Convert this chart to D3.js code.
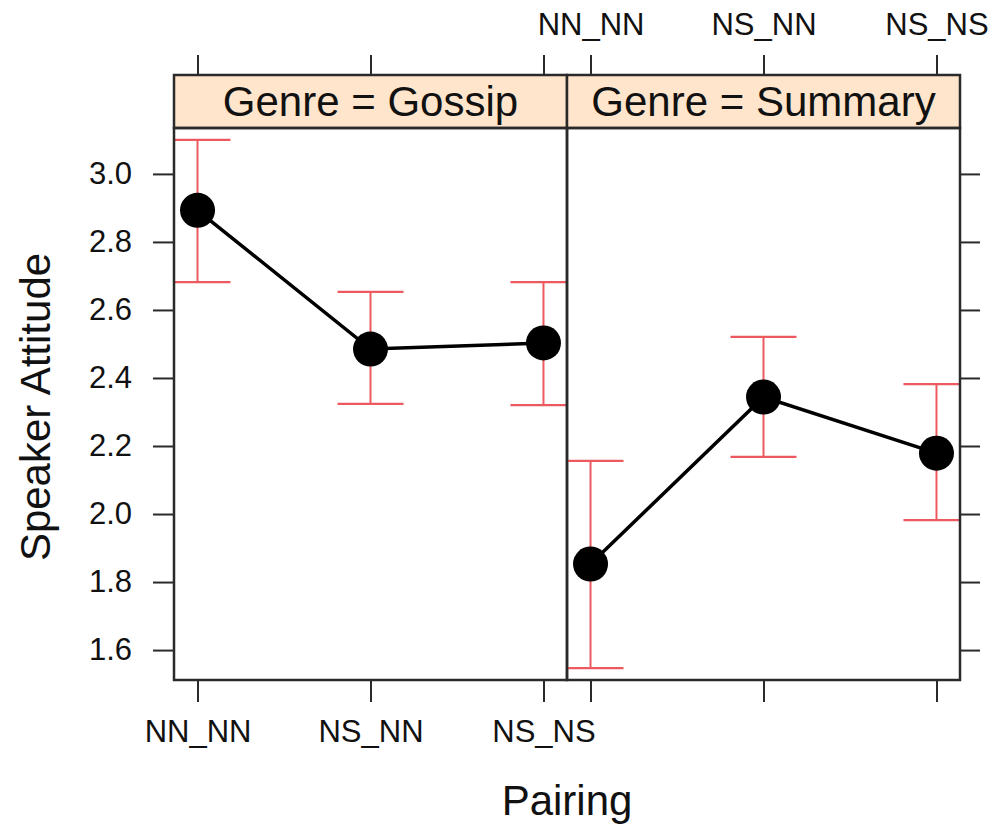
<!DOCTYPE html>
<html>
<head>
<meta charset="utf-8">
<script src="https://cdn.jsdelivr.net/npm/d3@7"></script>
<style>
  body { margin: 0; background: #fff; }
  text { font-family: "Liberation Sans", Arial, Helvetica, sans-serif; fill: #111; }
</style>
</head>
<body>
<div id="chart"></div>
<script>
// datos
const pairings = ["NN_NN", "NS_NN", "NS_NS"];
const genres = ["Gossip", "Summary"];
const meanGossip  = [2.893, 2.485, 2.503];
const upperGossip = [3.100, 2.653, 2.682];
const lowerGossip = [2.682, 2.324, 2.320];
const meanSummary  = [1.853, 2.344, 2.179];
const upperSummary = [2.156, 2.521, 2.382];
const lowerSummary = [1.547, 2.168, 1.982];
const yTicks = [1.6, 1.8, 2.0, 2.2, 2.4, 2.6, 2.8, 3.0];

const panels = [
  { genre: genres[0], mean: meanGossip, upper: upperGossip, lower: lowerGossip },
  { genre: genres[1], mean: meanSummary, upper: upperSummary, lower: lowerSummary }
];

const W = 993, H = 827;
const panelLeft = 174, panelW = 393;
const stripTop = 75, panelTop = 128, panelBottom = 680;
const red = "#ec5a60";
const ink = "#2a2a2a";

const svg = d3.select("#chart").append("svg")
  .attr("width", W).attr("height", H);

const y = d3.scaleLinear().domain([1.512, 3.135]).range([panelBottom, panelTop]);

panels.forEach((p, i) => {
  const x0 = panelLeft + i * panelW, x1 = x0 + panelW;
  const x = d3.scalePoint().domain(pairings).range([x0, x1]).padding(0.136);
  const g = svg.append("g");

  // strip
  g.append("rect")
    .attr("x", x0).attr("y", stripTop)
    .attr("width", panelW).attr("height", panelTop - stripTop)
    .attr("fill", "#ffe5cc").attr("stroke", ink).attr("stroke-width", 2.5);
  g.append("text")
    .attr("x", (x0 + x1) / 2).attr("y", panelTop - 12)
    .attr("text-anchor", "middle")
    .style("font-size", "42px")
    .text("Genre = " + p.genre);

  // ejes x: abajo y arriba
  const xb = g.append("g").attr("transform", `translate(0,${panelBottom})`)
    .call(d3.axisBottom(x).tickSize(22).tickPadding(18)
      .tickFormat(i === 0 ? d => d : () => ""));
  const xt = g.append("g").attr("transform", `translate(0,${stripTop})`)
    .call(d3.axisTop(x).tickSize(20).tickPadding(20)
      .tickFormat(i === 1 ? d => d : () => ""));
  [xb, xt].forEach(a => {
    a.select(".domain").remove();
    a.selectAll("line").attr("stroke", ink).attr("stroke-width", 2);
    a.selectAll("text").style("font-size", "31px").attr("fill", "#111");
  });

  // eje y
  if (i === 0) {
    const ya = g.append("g").attr("transform", `translate(${x0},0)`)
      .call(d3.axisLeft(y).tickValues(yTicks).tickSize(21).tickPadding(21)
        .tickFormat(d3.format(".1f")));
    ya.select(".domain").remove();
    ya.selectAll("line").attr("stroke", ink).attr("stroke-width", 2);
    ya.selectAll("text").style("font-size", "31px").attr("fill", "#111");
  } else {
    const ya = g.append("g").attr("transform", `translate(${x1},0)`)
      .call(d3.axisRight(y).tickValues(yTicks).tickSize(20).tickFormat(() => ""));
    ya.select(".domain").remove();
    ya.selectAll("line").attr("stroke", ink).attr("stroke-width", 2);
  }

  // barras de error
  const cap = 33;
  pairings.forEach((c, j) => {
    const cx = x(c);
    g.append("line")
      .attr("x1", cx).attr("x2", cx)
      .attr("y1", y(p.lower[j])).attr("y2", y(p.upper[j]))
      .attr("stroke", red).attr("stroke-width", 2);
    [p.lower[j], p.upper[j]].forEach(v => {
      g.append("line")
        .attr("x1", Math.max(cx - cap, x0)).attr("x2", Math.min(cx + cap, x1))
        .attr("y1", y(v)).attr("y2", y(v))
        .attr("stroke", red).attr("stroke-width", 2.2);
    });
  });

  // linea y puntos
  const line = d3.line().x((d, j) => x(pairings[j])).y(d => y(d));
  g.append("path")
    .datum(p.mean)
    .attr("d", line)
    .attr("fill", "none").attr("stroke", "#000").attr("stroke-width", 3.5);
  g.selectAll(".pt")
    .data(p.mean)
    .enter().append("circle")
    .attr("class", "pt")
    .attr("cx", (d, j) => x(pairings[j]))
    .attr("cy", d => y(d))
    .attr("r", 17.5)
    .attr("fill", "#000");

  // borde del panel
  g.append("rect")
    .attr("x", x0).attr("y", panelTop)
    .attr("width", panelW).attr("height", panelBottom - panelTop)
    .attr("fill", "none").attr("stroke", ink).attr("stroke-width", 2.5);
});

// titulos de ejes
svg.append("text")
  .attr("transform", `translate(50,${(panelTop + panelBottom) / 2 + 3}) rotate(-90)`)
  .attr("text-anchor", "middle")
  .style("font-size", "42px")
  .text("Speaker Attitude");
svg.append("text")
  .attr("x", panelLeft + panelW).attr("y", 815)
  .attr("text-anchor", "middle")
  .style("font-size", "42px")
  .text("Pairing");
</script>
</body>
</html>
